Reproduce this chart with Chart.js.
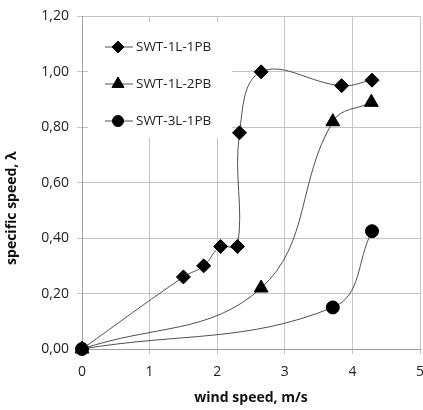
<!DOCTYPE html>
<html>
<head>
<meta charset="utf-8">
<script src="https://cdn.jsdelivr.net/npm/chart.js@4.4.0/dist/chart.umd.min.js"></script>
<style>
  html, body { margin: 0; padding: 0; background: #fff; overflow: hidden; }
  #wrap { width: 429px; height: 410px; }
</style>
</head>
<body>
<div id="wrap"><canvas id="grafico"></canvas></div>
<script>
var nomes = ['SWT-1L-1PB', 'SWT-1L-2PB', 'SWT-3L-1PB'];
var marcadores = ['rectRot', 'triangle', 'circle'];

var vento1 = [0, 1.5, 1.8, 2.05, 2.3, 2.33, 2.65, 3.84, 4.29];
var lambda1 = [0, 0.26, 0.30, 0.37, 0.37, 0.78, 1.00, 0.95, 0.97];

var vento2 = [0, 2.65, 3.71, 4.28];
var lambda2 = [0, 0.22, 0.82, 0.89];

var vento3 = [0, 3.71, 4.29];
var lambda3 = [0, 0.15, 0.425];

var ticksY = ['0,00', '0,20', '0,40', '0,60', '0,80', '1,00', '1,20'];

function pontos(xs, ys) {
    var lista = [];
    for (var i = 0; i < xs.length; i++) {
        lista.push({ x: xs[i], y: ys[i] });
    }
    return lista;
}

function serie(i, xs, ys, raio) {
    return {
        label: nomes[i],
        data: pontos(xs, ys),
        showLine: true,
        clip: false,
        borderColor: '#505050',
        borderWidth: 1,
        backgroundColor: '#000',
        pointBackgroundColor: '#000',
        pointBorderColor: '#000',
        pointStyle: marcadores[i],
        pointRadius: raio,
        tension: 0.4
    };
}

// legenda desenhada dentro da area do grafico, com fundo branco
var legendaInterna = {
    id: 'legendaInterna',
    beforeDatasetsDraw: function (chart) {
        var ctx = chart.ctx;
        ctx.save();
        ctx.fillStyle = '#fff';
        ctx.fillRect(88, 22, 144, 116);
        var ys = [47, 84, 121];
        for (var i = 0; i < chart.data.datasets.length; i++) {
            var ds = chart.data.datasets[i];
            ctx.strokeStyle = '#505050';
            ctx.lineWidth = 1;
            ctx.beginPath();
            ctx.moveTo(105, ys[i]);
            ctx.lineTo(133, ys[i]);
            ctx.stroke();
            ctx.fillStyle = '#000';
            ctx.strokeStyle = '#000';
            Chart.helpers.drawPoint(ctx, { pointStyle: ds.pointStyle, radius: ds.pointRadius - 1, borderWidth: 1 }, 118, ys[i]);
            ctx.fillStyle = '#222';
            ctx.font = '13.5px "Open Sans"';
            ctx.textBaseline = 'middle';
            ctx.fillText(ds.label, 136, ys[i]);
        }
        ctx.restore();
    }
};

new Chart(document.getElementById('grafico'), {
    type: 'scatter',
    data: {
        datasets: [
            serie(0, vento1, lambda1, 7),
            serie(1, vento2, lambda2, 8),
            serie(2, vento3, lambda3, 6.5)
        ]
    },
    options: {
        responsive: true,
        maintainAspectRatio: false,
        animation: false,
        layout: { padding: { top: 16, right: 3, left: 0, bottom: 0 } },
        plugins: {
            legend: { display: false },
            tooltip: { enabled: false }
        },
        scales: {
            x: {
                type: 'linear',
                min: 0,
                max: 5,
                ticks: { stepSize: 1, color: '#222', padding: 10, font: { family: 'Open Sans', size: 14 } },
                grid: { color: '#c4c4c4', tickLength: 5 },
                border: { color: '#a0a0a0' },
                title: { display: true, text: 'wind speed, m/s', color: '#111', font: { family: 'Open Sans', size: 14, weight: 'bold' }, padding: { top: 6 } },
                afterFit: function (s) {
                    s.height = 61;
                    s.paddingRight = 0;
                    s.paddingLeft = 0;
                }
            },
            y: {
                type: 'linear',
                min: 0,
                max: 1.2,
                ticks: {
                    stepSize: 0.2,
                    color: '#222',
                    padding: 8,
                    font: { family: 'Open Sans', size: 14 },
                    callback: function (v, i) { return ticksY[i]; }
                },
                grid: { color: '#c4c4c4', tickLength: 5 },
                border: { color: '#a0a0a0' },
                title: {
                    display: true,
                    text: 'specific speed, λ' + '\u00a0'.repeat(14),
                    color: '#111',
                    font: { family: 'Open Sans', size: 14, weight: 'bold' }
                },
                afterFit: function (s) { s.width = 82; }
            }
        }
    },
    plugins: [legendaInterna]
});
</script>
</body>
</html>
